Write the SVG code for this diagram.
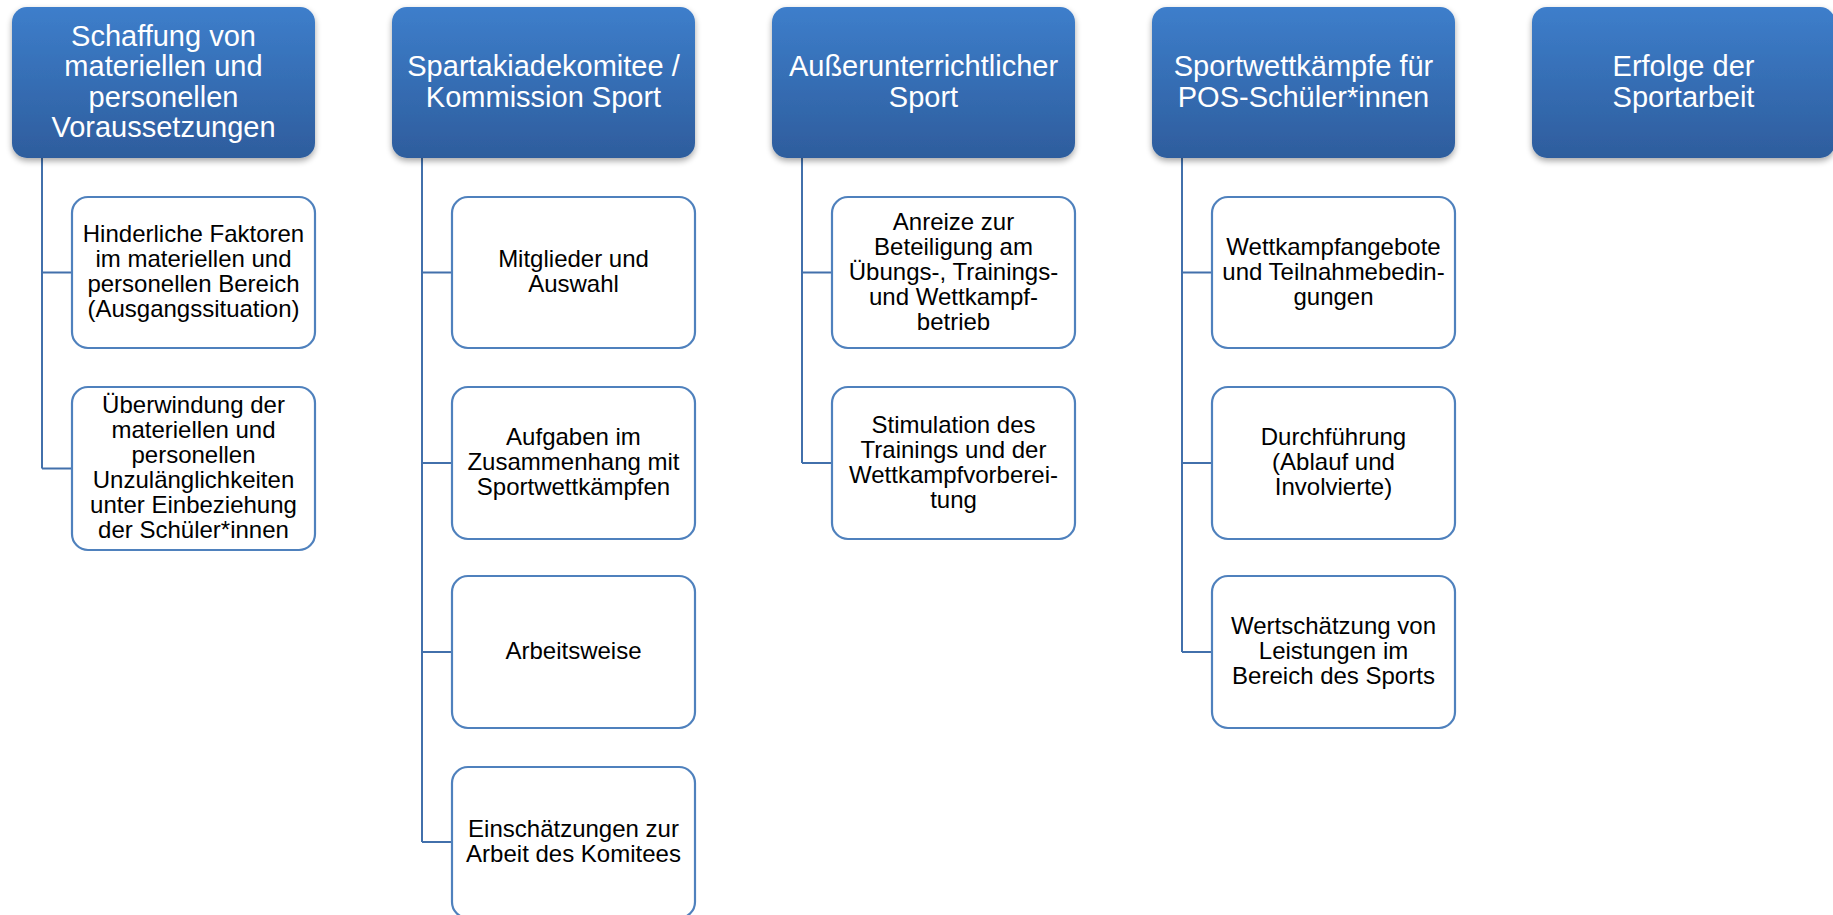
<svg xmlns="http://www.w3.org/2000/svg" width="1833" height="915" viewBox="0 0 1833 915">
  <defs>
    <linearGradient id="hg" x1="0" y1="0" x2="0" y2="1">
      <stop offset="0" stop-color="#3D7ECB"/>
      <stop offset="1" stop-color="#2E5D9D"/>
    </linearGradient>
    <filter id="sh" x="-10%" y="-10%" width="120%" height="130%">
      <feGaussianBlur in="SourceAlpha" stdDeviation="3"/>
      <feOffset dx="0" dy="3" result="b"/>
      <feComponentTransfer><feFuncA type="linear" slope="0.35"/></feComponentTransfer>
      <feMerge><feMergeNode/><feMergeNode in="SourceGraphic"/></feMerge>
    </filter>
  </defs>
  <style>
    .hdr rect { fill: url(#hg); filter: url(#sh); }
    .hdr text { fill: #FFFFFF; font-family: "Liberation Sans", Arial, sans-serif; font-size: 29px; text-anchor: middle; }
    .child rect { fill: #FFFFFF; stroke: #4F81BD; stroke-width: 2.2; }
    .child text { fill: #000000; font-family: "Liberation Sans", Arial, sans-serif; font-size: 24px; text-anchor: middle; }
    .conn path { fill: none; stroke: #4270AB; stroke-width: 2; }
  </style>
  <rect width="1833" height="915" fill="#FFFFFF"/>

  <g id="connectors" class="conn">
    <path d="M42 158 V468.5 M42 272.5 H72 M42 468.5 H72"/>
    <path d="M422 158 V842 M422 272.5 H452 M422 463 H452 M422 652 H452 M422 842 H452"/>
    <path d="M802 158 V463 M802 272.5 H832 M802 463 H832"/>
    <path d="M1182 158 V652 M1182 272.5 H1212 M1182 463 H1212 M1182 652 H1212"/>
  </g>

  <!-- Column 1 -->
  <g id="h1" class="hdr">
    <rect x="12" y="7" width="303" height="151" rx="15"/>
    <text x="163.5"><tspan x="163.5" y="45.6">Schaffung von</tspan><tspan x="163.5" y="76.1">materiellen und</tspan><tspan x="163.5" y="106.6">personellen</tspan><tspan x="163.5" y="137.1">Voraussetzungen</tspan></text>
  </g>
  <g id="c1a" class="child">
    <rect x="72" y="197" width="243" height="151" rx="16"/>
    <text><tspan x="193.5" y="242">Hinderliche Faktoren</tspan><tspan x="193.5" y="267">im materiellen und</tspan><tspan x="193.5" y="292">personellen Bereich</tspan><tspan x="193.5" y="317">(Ausgangssituation)</tspan></text>
  </g>
  <g id="c1b" class="child">
    <rect x="72" y="387" width="243" height="163" rx="16"/>
    <text><tspan x="193.5" y="413">Überwindung der</tspan><tspan x="193.5" y="438">materiellen und</tspan><tspan x="193.5" y="463">personellen</tspan><tspan x="193.5" y="488">Unzulänglichkeiten</tspan><tspan x="193.5" y="513">unter Einbeziehung</tspan><tspan x="193.5" y="538">der Schüler*innen</tspan></text>
  </g>

  <!-- Column 2 -->
  <g id="h2" class="hdr">
    <rect x="392" y="7" width="303" height="151" rx="15"/>
    <text><tspan x="543.5" y="76.1">Spartakiadekomitee /</tspan><tspan x="543.5" y="106.6">Kommission Sport</tspan></text>
  </g>
  <g id="c2a" class="child">
    <rect x="452" y="197" width="243" height="151" rx="16"/>
    <text><tspan x="573.5" y="267">Mitglieder und</tspan><tspan x="573.5" y="292">Auswahl</tspan></text>
  </g>
  <g id="c2b" class="child">
    <rect x="452" y="387" width="243" height="152" rx="16"/>
    <text><tspan x="573.5" y="445">Aufgaben im</tspan><tspan x="573.5" y="470">Zusammenhang mit</tspan><tspan x="573.5" y="495">Sportwettkämpfen</tspan></text>
  </g>
  <g id="c2c" class="child">
    <rect x="452" y="576" width="243" height="152" rx="16"/>
    <text><tspan x="573.5" y="659">Arbeitsweise</tspan></text>
  </g>
  <g id="c2d" class="child">
    <rect x="452" y="767" width="243" height="151" rx="16"/>
    <text><tspan x="573.5" y="837">Einschätzungen zur</tspan><tspan x="573.5" y="862">Arbeit des Komitees</tspan></text>
  </g>

  <!-- Column 3 -->
  <g id="h3" class="hdr">
    <rect x="772" y="7" width="303" height="151" rx="15"/>
    <text><tspan x="923.5" y="76.1">Außerunterrichtlicher</tspan><tspan x="923.5" y="106.6">Sport</tspan></text>
  </g>
  <g id="c3a" class="child">
    <rect x="832" y="197" width="243" height="151" rx="16"/>
    <text><tspan x="953.5" y="229.5">Anreize zur</tspan><tspan x="953.5" y="254.5">Beteiligung am</tspan><tspan x="953.5" y="279.5">Übungs-, Trainings-</tspan><tspan x="953.5" y="304.5">und Wettkampf-</tspan><tspan x="953.5" y="329.5">betrieb</tspan></text>
  </g>
  <g id="c3b" class="child">
    <rect x="832" y="387" width="243" height="152" rx="16"/>
    <text><tspan x="953.5" y="432.5">Stimulation des</tspan><tspan x="953.5" y="457.5">Trainings und der</tspan><tspan x="953.5" y="482.5">Wettkampfvorberei-</tspan><tspan x="953.5" y="507.5">tung</tspan></text>
  </g>

  <!-- Column 4 -->
  <g id="h4" class="hdr">
    <rect x="1152" y="7" width="303" height="151" rx="15"/>
    <text><tspan x="1303.5" y="76.1">Sportwettkämpfe für</tspan><tspan x="1303.5" y="106.6">POS-Schüler*innen</tspan></text>
  </g>
  <g id="c4a" class="child">
    <rect x="1212" y="197" width="243" height="151" rx="16"/>
    <text><tspan x="1333.5" y="254.5">Wettkampfangebote</tspan><tspan x="1333.5" y="279.5">und Teilnahmebedin-</tspan><tspan x="1333.5" y="304.5">gungen</tspan></text>
  </g>
  <g id="c4b" class="child">
    <rect x="1212" y="387" width="243" height="152" rx="16"/>
    <text><tspan x="1333.5" y="445">Durchführung</tspan><tspan x="1333.5" y="470">(Ablauf und</tspan><tspan x="1333.5" y="495">Involvierte)</tspan></text>
  </g>
  <g id="c4c" class="child">
    <rect x="1212" y="576" width="243" height="152" rx="16"/>
    <text><tspan x="1333.5" y="634">Wertschätzung von</tspan><tspan x="1333.5" y="659">Leistungen im</tspan><tspan x="1333.5" y="684">Bereich des Sports</tspan></text>
  </g>

  <!-- Column 5 -->
  <g id="h5" class="hdr">
    <rect x="1532" y="7" width="303" height="151" rx="15"/>
    <text><tspan x="1683.5" y="76.1">Erfolge der</tspan><tspan x="1683.5" y="106.6">Sportarbeit</tspan></text>
  </g>
</svg>
